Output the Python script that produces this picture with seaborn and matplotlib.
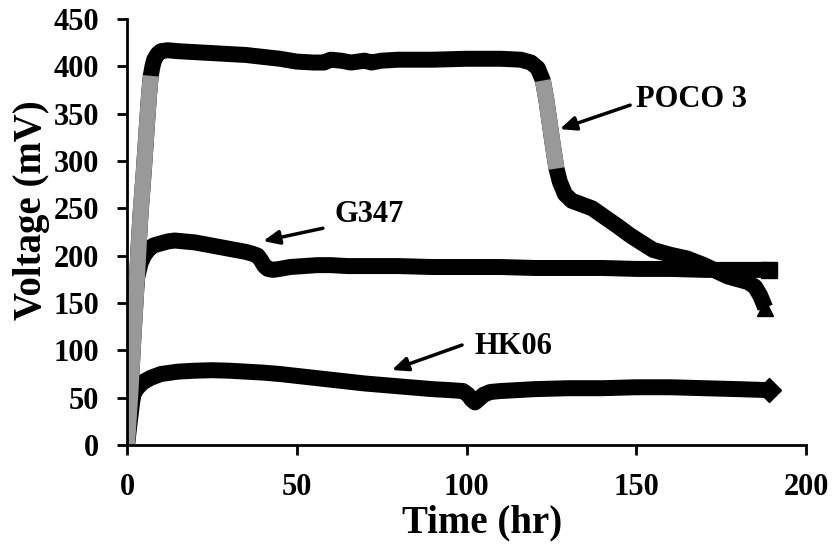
import matplotlib
matplotlib.use("Agg")
import matplotlib.pyplot as plt
import seaborn as sns
import pandas as pd

# POCO 3 electrode voltage (mV) against time (hr)
poco_t = [0, 1, 2, 3, 3.5, 4, 4.5, 5, 5.5, 6, 6.5, 7, 7.5, 8, 9, 10, 12, 15, 20,
          25, 30, 35, 40, 45, 50, 55, 58, 60, 63, 66, 70, 72, 75, 80, 90, 100,
          110, 116, 119, 121, 122.5, 123.5, 124.5, 125.5, 126.5, 127.5, 129,
          131, 134, 137, 139, 141, 143, 145, 148, 151, 155, 160, 165, 170, 174,
          177, 180, 183, 185, 186.5, 188]
poco_v = [0, 55, 120, 180, 215, 245, 268, 292, 318, 345, 370, 390, 400, 407, 413,
          416, 417, 416, 415, 414, 413, 412, 410, 408, 405, 404, 404, 407, 406,
          404, 406, 404, 406, 407, 407, 408, 408, 407, 404, 398, 385, 365, 340,
          315, 292, 278, 265, 258, 254, 250, 245, 240, 235, 230, 222, 215, 206,
          201, 197, 190, 183, 178, 175, 172, 167, 158, 145]

# G347 electrode
g347_t = [0, 0.4, 1, 1.5, 2, 2.5, 3, 4, 5, 6, 7, 8, 10, 12, 14, 17, 20, 23, 26,
          29, 32, 35, 37, 38.5, 39.5, 40.5, 41.5, 43, 45, 48, 52, 56, 60, 65,
          70, 80, 90, 100, 110, 120, 130, 140, 150, 160, 170, 180, 189]
g347_v = [0, 40, 75, 105, 135, 160, 177, 192, 200, 205, 209, 211, 213, 215, 216,
          215, 214, 212, 210, 208, 206, 204, 202, 200, 195, 189, 186, 185, 186,
          188, 189, 190, 190, 189, 189, 189, 188, 188, 188, 187, 187, 187, 186,
          186, 185, 185, 185]

# HK06 electrode
hk06_t = [0, 0.5, 1, 1.5, 2, 3, 4, 5, 7, 10, 15, 20, 25, 30, 35, 40, 45, 50, 55,
          60, 65, 70, 75, 80, 85, 90, 95, 99, 100.5, 101.5, 102.5, 103.5, 105,
          107, 110, 115, 120, 130, 140, 150, 160, 170, 180, 189]
hk06_v = [0, 15, 30, 45, 55, 60, 64, 67, 71, 75, 77.5, 78.5, 79, 78.5, 77.5,
          76.5, 75, 73, 71, 69, 67, 65, 63.5, 62, 60.5, 59, 58, 57, 53, 48, 45,
          48, 53, 56, 57, 58, 59, 60, 60, 61, 61, 60, 59, 58]

x_ticks = [0, 50, 100, 150, 200]
y_ticks = [0, 50, 100, 150, 200, 250, 300, 350, 400, 450]

sns.set_theme(style="ticks")
plt.rcParams["font.family"] = ["Liberation Serif", "DejaVu Serif"]
plt.rcParams["font.weight"] = "bold"

fig = plt.figure(figsize=(8.4, 5.48), dpi=100)
ax = fig.add_axes([127 / 840, 1 - 445 / 548, (806 - 127) / 840, (445 - 19) / 548])

# dense logging makes each trace a thick band; the marker shape only
# shows where a trace ends
series = [
    (poco_t, poco_v, "^"),
    (g347_t, g347_v, "s"),
    (hk06_t, hk06_v, "D"),
]
for t, v, m in series:
    df = pd.DataFrame({"time": t, "voltage": v})
    sns.lineplot(data=df, x="time", y="voltage", ax=ax, color="black",
                 linewidth=11.5, marker=m, markersize=12, markevery=[-1],
                 markerfacecolor="black", markeredgecolor="black",
                 markeredgewidth=1, sort=False, estimator=None,
                 solid_joinstyle="round", solid_capstyle="butt")

# steep stretches of the POCO 3 trace, where the open triangles thin out
poco = pd.DataFrame({"time": poco_t, "voltage": poco_v})
for lo, hi in [(0, 7), (122.5, 126.5)]:
    part = poco[(poco["time"] >= lo) & (poco["time"] <= hi)]
    sns.lineplot(data=part, x="time", y="voltage", ax=ax, color="0.6",
                 linewidth=11.5, sort=False, estimator=None,
                 solid_joinstyle="round", solid_capstyle="butt")

ax.set_xlim(0, 200)
ax.set_ylim(0, 450)
ax.set_xticks(x_ticks)
ax.set_yticks(y_ticks)
ax.tick_params(axis="both", direction="out", length=7, width=2,
               labelsize=22, pad=13, color="black", labelcolor="black")
for lab in ax.get_xticklabels() + ax.get_yticklabels():
    lab.set_fontweight("bold")
for side in ("left", "bottom"):
    ax.spines[side].set_linewidth(2)
    ax.spines[side].set_color("black")
sns.despine(ax=ax)

ax.set_xlabel("Time (hr)", fontsize=28, fontweight="bold", color="black")
ax.set_ylabel("Voltage (mV)", fontsize=28, fontweight="bold", color="black")
ax.xaxis.set_label_coords((482 - 127) / (806 - 127), -0.14)
ax.yaxis.set_label_coords((50 - 127) / (806 - 127), 0.552)

arrow = dict(arrowstyle="-|>,head_length=0.8,head_width=0.35", color="black",
             lw=2.5, shrinkA=0, shrinkB=0)
notes = [
    ("POCO 3", (166.4, 365.4), (148.2, 359), (127.5, 333.7)),
    ("G347", (71.3, 244), (57.7, 229), (40.1, 215.4)),
    ("HK06", (113.7, 104.5), (98.7, 105.6), (78, 79.2)),
]
for label, text_xy, tail, head in notes:
    ax.annotate("", xy=head, xytext=tail, arrowprops=arrow)
    ax.text(*text_xy, label, fontsize=22, fontweight="bold", ha="center",
            va="center", color="black")

fig.savefig("out.png", dpi=100, facecolor="white")
